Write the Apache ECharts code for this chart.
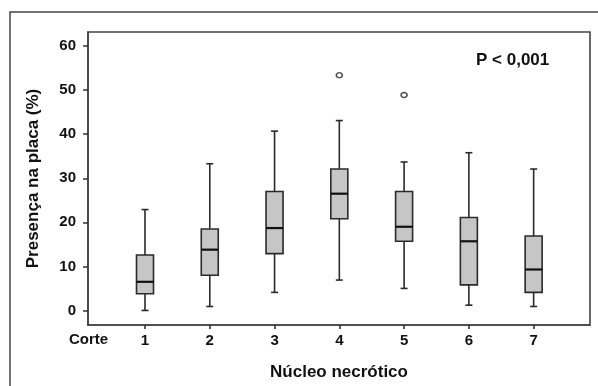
<!DOCTYPE html>
<html><head><meta charset="utf-8">
<script src="https://cdn.jsdelivr.net/npm/echarts@6/dist/echarts.min.js"></script>
<style>html,body{margin:0;padding:0;background:#fff}#c{width:598px;height:386px}</style>
</head><body><div id="c"></div>
<script>
const categories = [1, 2, 3, 4, 5, 6, 7];
const whiskerLow = [0, 0.9, 4.1, 6.9, 5.0, 1.2, 0.9];
const q1 = [3.8, 8.0, 12.9, 20.8, 15.7, 5.8, 4.1];
const median = [6.5, 13.8, 18.7, 26.5, 19.0, 15.7, 9.3];
const q3 = [12.6, 18.5, 27.0, 32.1, 27.0, 21.1, 16.9];
const whiskerHigh = [22.9, 33.3, 40.7, 43.1, 33.7, 35.8, 32.1];
const outlierCats = [4, 5];
const outlierVals = [53.4, 48.9];
const yTicks = [0, 10, 20, 30, 40, 50, 60];

const FONT = '"Liberation Sans", Arial, sans-serif';
const boxData = categories.map((c, i) => [c, whiskerLow[i], q1[i], median[i], q3[i], whiskerHigh[i]]);
const outData = outlierCats.map((c, i) => [c, outlierVals[i]]);

const chart = echarts.init(document.getElementById('c'));
chart.setOption({
  animation: false,
  backgroundColor: '#fff',
  grid: { left: 88, right: 8, top: 32, bottom: 59, show: true, borderColor: '#444', borderWidth: 1.6, backgroundColor: 'transparent' },
  title: {
    text: 'P < 0,001', left: 471, top: 47,
    textStyle: { fontFamily: FONT, fontWeight: 'bold', fontSize: 17, color: '#111' }
  },
  graphic: [
    { type: 'rect', shape: { x: 10, y: 12, width: 600, height: 380 }, style: { fill: 'none', stroke: '#444', lineWidth: 1.5 }, silent: true },
    { type: 'text', left: 69, top: 332, style: { text: 'Corte', font: 'bold 15px ' + FONT, fill: '#111' } }
  ],
  xAxis: {
    type: 'value', min: 0.12, max: 7.87,
    position: 'bottom',
    name: 'Núcleo necrótico', nameLocation: 'middle', nameGap: 39,
    nameTextStyle: { fontFamily: FONT, fontWeight: 'bold', fontSize: 17, color: '#111' },
    axisLine: { show: true, onZero: false, lineStyle: { color: '#444', width: 1.6 } }, splitLine: { show: false },
    axisTick: { show: true, length: 4, inside: false, customValues: categories, lineStyle: { color: '#333', width: 1.6 } },
    axisLabel: { customValues: categories, margin: 8, fontFamily: FONT, fontWeight: 'bold', fontSize: 15, color: '#111' }
  },
  yAxis: {
    type: 'value', min: -3.3, max: 63.2,
    name: 'Presença na placa (%)', nameLocation: 'middle', nameGap: 46, nameRotate: 90,
    nameTextStyle: { fontFamily: FONT, fontWeight: 'bold', fontSize: 17, color: '#111' },
    axisLine: { show: true, onZero: false, lineStyle: { color: '#444', width: 1.6 } }, splitLine: { show: false },
    axisTick: { show: true, length: 5, customValues: yTicks, lineStyle: { color: '#333', width: 1.5 } },
    axisLabel: { customValues: yTicks, margin: 12, fontFamily: FONT, fontWeight: 'bold', fontSize: 15, color: '#111' }
  },
  series: [
    {
      type: 'custom',
      data: boxData,
      encode: { x: 0, y: [1, 2, 3, 4, 5] },
      renderItem: function (params, api) {
        const x = api.value(0);
        const pLow = api.coord([x, api.value(1)]);
        const pQ1 = api.coord([x, api.value(2)]);
        const pMed = api.coord([x, api.value(3)]);
        const pQ3 = api.coord([x, api.value(4)]);
        const pHigh = api.coord([x, api.value(5)]);
        const cx = pLow[0];
        const bw = 17, cw = 7;
        const ls = { stroke: '#2a2a2a', lineWidth: 1.6, fill: null };
        return {
          type: 'group',
          children: [
            { type: 'line', shape: { x1: cx, y1: pLow[1], x2: cx, y2: pQ1[1] }, style: ls },
            { type: 'line', shape: { x1: cx, y1: pQ3[1], x2: cx, y2: pHigh[1] }, style: ls },
            { type: 'line', shape: { x1: cx - cw / 2, y1: pLow[1], x2: cx + cw / 2, y2: pLow[1] }, style: ls },
            { type: 'line', shape: { x1: cx - cw / 2, y1: pHigh[1], x2: cx + cw / 2, y2: pHigh[1] }, style: ls },
            { type: 'rect', shape: { x: cx - bw / 2, y: pQ3[1], width: bw, height: pQ1[1] - pQ3[1] }, style: { fill: '#c6c6c6', stroke: '#2a2a2a', lineWidth: 1.6 } },
            { type: 'line', shape: { x1: cx - bw / 2, y1: pMed[1], x2: cx + bw / 2, y2: pMed[1] }, style: { stroke: '#111', lineWidth: 2.2 } }
          ]
        };
      }
    },
    {
      type: 'scatter',
      data: outData,
      symbol: 'circle', symbolSize: [6, 5],
      itemStyle: { color: '#fff', borderColor: '#222', borderWidth: 1.5 }
    }
  ]
});
</script></body></html>
